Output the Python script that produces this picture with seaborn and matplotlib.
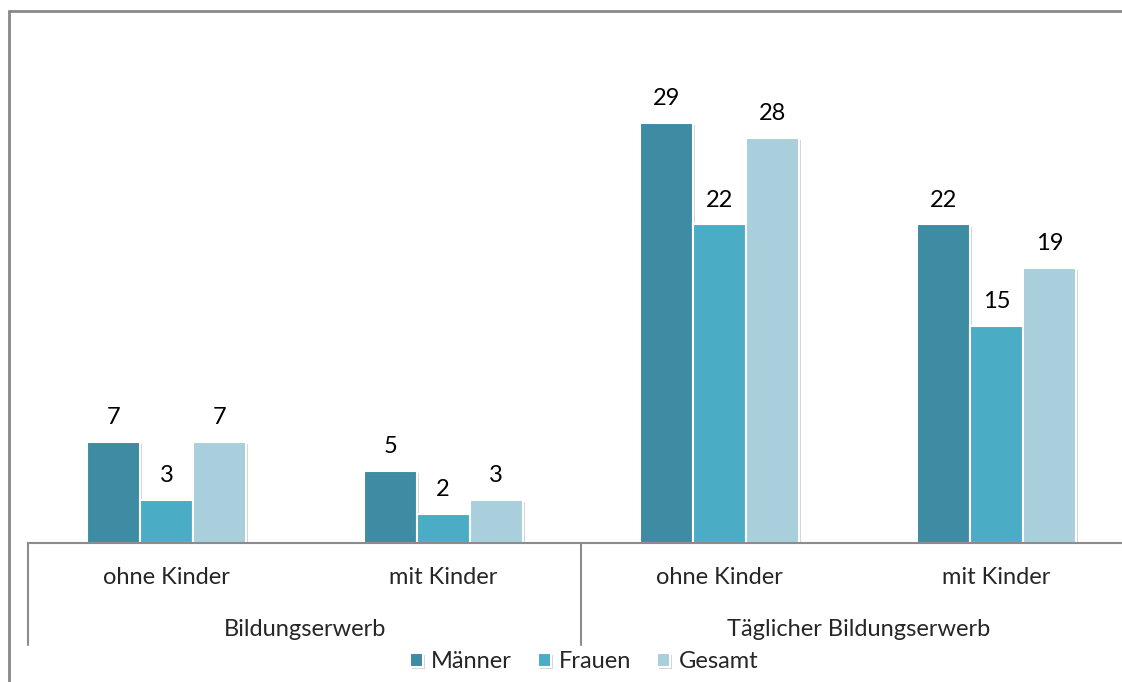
import numpy as np
import pandas as pd
import matplotlib
matplotlib.use("Agg")
import matplotlib.pyplot as plt
import matplotlib.patheffects as pe
from matplotlib.lines import Line2D
import seaborn as sns

# values
categories = ["ohne Kinder", "mit Kinder", "ohne Kinder ", "mit Kinder "]
tick_labels = ["ohne Kinder", "mit Kinder", "ohne Kinder", "mit Kinder"]
groups = ["Bildungserwerb", "Täglicher Bildungserwerb"]
series = ["Männer", "Frauen", "Gesamt"]
maenner = [7, 5, 29, 22]
frauen = [3, 2, 22, 15]
gesamt = [7, 3, 28, 19]
colors = ["#3d8ca3", "#4bacc6", "#a9cfdd"]

df = pd.DataFrame({
    "kat": categories * 3,
    "serie": np.repeat(series, len(categories)),
    "wert": maenner + frauen + gesamt,
})

sns.set_style("white")
plt.rcParams["font.family"] = ["Lato", "DejaVu Sans"]
fs = 17

W, H = 1122, 682
fig = plt.figure(figsize=(W / 100, H / 100), dpi=100)
ax = fig.add_axes([28 / W, 139 / H, 1107 / W, 533 / H])

sns.barplot(data=df, x="kat", y="wert", hue="serie", order=categories,
            hue_order=series, palette=colors, width=0.574, gap=0,
            edgecolor="white", linewidth=1.5, saturation=1, ax=ax, legend=True)

for bar in ax.patches:
    bar.set_path_effects([pe.SimplePatchShadow(offset=(1.5, -1.5), shadow_rgbFace="#888888", alpha=0.35),
                          pe.Normal()])

for cont in ax.containers:
    ax.bar_label(cont, padding=10, fontsize=fs, color="black")

ax.set_xlim(-0.5, 3.5)
ax.set_ylim(0, 533 / 14.48)
ax.set_xlabel("")
ax.set_ylabel("")
ax.set_yticks([])
ax.set_xticks([])
for s in ["left", "right", "top"]:
    ax.spines[s].set_visible(False)
ax.spines["bottom"].set_color("#8c8c8c")
ax.spines["bottom"].set_linewidth(1.5)

tr = ax.get_xaxis_transform()
for i, lab in enumerate(tick_labels):
    ax.text(i, -34 / 533, lab, transform=tr, ha="center", va="center", fontsize=fs)
for j, g in enumerate(groups):
    ax.text(0.5 + 2 * j, -87 / 533, g, transform=tr, ha="center", va="center", fontsize=fs)
for xd in [-0.5, 1.5, 3.5]:
    ax.plot([xd, xd], [0, -102 / 533], transform=tr, color="#8c8c8c", lw=1.5, clip_on=False)

handles, labels = ax.get_legend_handles_labels()
ax.get_legend().remove()
fig.legend(handles, labels, loc="center", bbox_to_anchor=(584 / W, 20 / H), ncol=3,
           frameon=False, handlelength=0.55, handleheight=0.55, handletextpad=0.35,
           columnspacing=1.1, fontsize=fs)

# outer frame (left and top edges)
fig.add_artist(Line2D([8.5 / W, 8.5 / W], [0, 1 - 10.5 / H], color="#888888", lw=2, transform=fig.transFigure))
fig.add_artist(Line2D([8.5 / W, 1], [1 - 10.5 / H, 1 - 10.5 / H], color="#888888", lw=2, transform=fig.transFigure))

fig.savefig("out.png", dpi=100, facecolor="white")
